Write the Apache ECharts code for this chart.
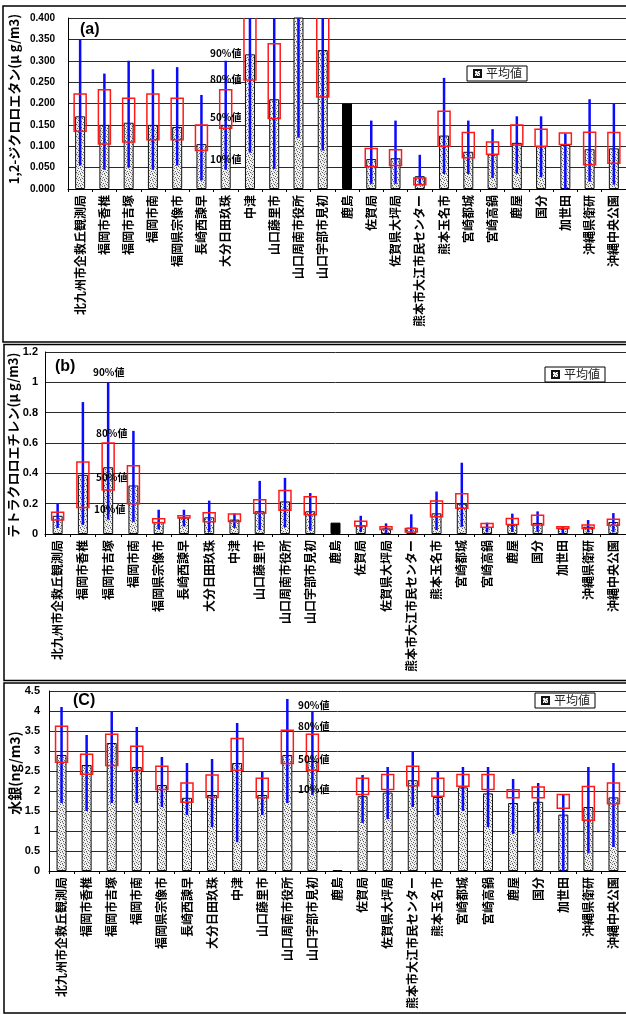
<!DOCTYPE html>
<html><head><meta charset="utf-8">
<style>html,body{margin:0;padding:0;background:#fff}#c{width:626px;height:1014px}</style>
<script src="https://cdn.jsdelivr.net/npm/echarts@6/dist/echarts.min.js"></script>
</head><body><div id="c"></div>
<script>
// ---- categories (monitoring stations) ----
const categories = ['北九州市企救丘観測局','福岡市香椎','福岡市吉塚','福岡市南','福岡県宗像市','長崎西諫早','大分日田玖珠','中津','山口藤里市','山口周南市役所','山口宇部市見初','鹿島','佐賀局','佐賀県大坪局','熊本市大江市民センター','熊本玉名市','宮崎都城','宮崎高鍋','鹿屋','国分','加世田','沖縄県衛研','沖縄中央公園'];
const blackIndex = 11; // station drawn as solid black bar

// ---- (a) 1,2-ジクロロエタン ----
const meanA = [0.170,0.150,0.155,0.150,0.145,0.105,0.150,0.315,0.210,0.450,0.325,0.200,0.070,0.072,0.030,0.125,0.087,0.081,0.108,0.100,0.103,0.093,0.095];
const p10A  = [0.055,0.045,0.050,0.045,0.055,0.020,0.045,0.085,0.047,0.120,0.090,null,0.012,0.012,0.012,0.035,0.035,0.026,0.036,0.028,0.000,0.017,0.010];
const p50A  = [0.135,0.105,0.110,0.115,0.115,0.090,0.142,0.255,0.165,0.450,0.215,null,0.052,0.055,0.010,0.100,0.073,0.081,0.103,0.100,0.104,0.057,0.060];
const p80A  = [0.222,0.232,0.212,0.222,0.212,0.150,0.232,0.480,0.340,0.700,0.480,null,0.095,0.092,0.026,0.182,0.132,0.110,0.150,0.140,0.131,0.133,0.132];
const p90A  = [0.350,0.270,0.300,0.280,0.285,0.220,0.300,0.500,0.500,0.800,0.600,null,0.160,0.160,0.080,0.260,0.160,0.140,0.170,0.170,0.130,0.210,0.200];

// ---- (b) テトラクロロエチレン ----
const meanB = [0.120,0.390,0.440,0.320,0.080,0.110,0.110,0.095,0.150,0.215,0.150,0.075,0.057,0.037,0.042,0.136,0.200,0.045,0.062,0.073,0.037,0.048,0.079];
const p10B  = [0.040,0.060,0.095,0.080,0.030,0.050,0.013,0.040,0.025,0.044,0.022,null,0.013,0.007,0.007,0.026,0.048,0.011,0.013,0.013,0.000,0.011,0.011];
const p50B  = [0.092,0.175,0.290,0.200,0.075,0.105,0.080,0.083,0.136,0.156,0.127,null,0.053,0.029,0.013,0.114,0.169,0.044,0.062,0.059,0.037,0.037,0.057];
const p80B  = [0.143,0.475,0.600,0.450,0.100,0.121,0.140,0.132,0.226,0.286,0.246,null,0.084,0.048,0.037,0.218,0.266,0.070,0.103,0.123,0.048,0.059,0.097];
const p90B  = [0.200,0.870,1.000,0.680,0.160,0.160,0.220,0.135,0.350,0.370,0.270,null,0.120,0.070,0.130,0.280,0.470,0.075,0.134,0.149,0.048,0.092,0.138];

// ---- (c) 水銀 ----
const meanC = [2.90,2.65,3.20,2.60,2.15,1.83,1.90,2.70,1.90,2.90,2.75,0.02,1.87,1.96,2.27,1.85,2.09,1.94,1.70,1.73,1.41,1.60,1.84];
const p10C  = [1.70,1.50,1.70,1.70,1.60,1.40,1.10,0.72,1.40,1.70,1.90,null,1.20,1.30,1.60,1.40,1.50,1.10,0.93,0.96,0.00,0.44,0.60];
const p50C  = [2.72,2.42,2.64,2.52,2.04,1.72,1.84,2.52,1.83,2.69,2.52,null,1.91,2.04,2.13,1.87,2.12,2.04,1.83,1.83,1.57,1.27,1.68];
const p80C  = [3.62,2.92,3.42,3.12,2.62,2.20,2.40,3.31,2.32,3.52,3.42,null,2.32,2.41,2.62,2.32,2.41,2.41,2.03,2.10,1.91,2.11,2.20];
const p90C  = [4.10,3.40,4.00,3.60,2.85,2.70,2.80,3.70,2.50,4.30,4.00,null,2.40,2.60,3.00,2.50,2.60,2.60,2.30,2.20,1.90,2.60,2.70];

// ---- axis settings / texts ----
const yTitles = ['1,2-ジクロロエタン(μ g/m3)','テトラクロロエチレン(μ g/m3)','水銀(ng/m3)'];
const panelLabels = ['(a)','(b)','(C)'];
const yMax = [0.4, 1.2, 4.5];
const yInterval = [0.05, 0.2, 0.5];
const pctLabels = ['90%値','80%値','50%値','10%値'];
const legendName = '平均値';

const FONT_JP = '"Noto Sans CJK JP", "Noto Sans", sans-serif';
const FONT_NUM = '"Liberation Sans", Arial, sans-serif';

function makePattern(){
  const c = document.createElement('canvas');
  c.width = 6; c.height = 6;
  const ctx = c.getContext('2d');
  ctx.fillStyle = '#f2f2f2'; ctx.fillRect(0,0,6,6);
  ctx.fillStyle = '#5a5a5a';
  [[0,0],[3,1],[1,3],[4,4],[5,2],[2,5]].forEach(p => ctx.fillRect(p[0], p[1], 1, 1));
  ctx.fillStyle = '#b0b0b0';
  [[2,0],[5,5],[0,4],[3,3]].forEach(p => ctx.fillRect(p[0], p[1], 1, 1));
  return c;
}
const pattern = {image: makePattern(), repeat: 'repeat'};

const panels = [
  {mean: meanA, p10: p10A, p50: p50A, p80: p80A, p90: p90A,
   grid: {left: 68, top: 18, right: 0, height: 171}, fmt: v => v.toFixed(3), margin: 13, fs: 10},
  {mean: meanB, p10: p10B, p50: p50B, p80: p80B, p90: p90B,
   grid: {left: 45, top: 352, right: 0, height: 182}, fmt: v => String(+v.toFixed(1)), margin: 7, fs: 11},
  {mean: meanC, p10: p10C, p50: p50C, p80: p80C, p90: p90C,
   grid: {left: 49, top: 691, right: 0, height: 180}, fmt: v => String(+v.toFixed(1)), margin: 9, fs: 11}
];

function renderWhisker(params, api){
  const cs = params.coordSys;
  const i = api.value(0);
  const x = api.coord([i, 0])[0];
  let y1 = api.coord([i, api.value(1)])[1];
  let y2 = api.coord([i, api.value(2)])[1];
  const top = cs.y, bot = cs.y + cs.height;
  y1 = Math.max(top, Math.min(bot, y1));
  y2 = Math.max(top, Math.min(bot, y2));
  if (y1 === y2) return null;
  return {type: 'line', shape: {x1: x, y1: y1, x2: x, y2: y2},
          style: {stroke: '#0a0aff', lineWidth: 2.5}};
}
function renderBox(params, api){
  const cs = params.coordSys;
  const i = api.value(0);
  const x = api.coord([i, 0])[0];
  const yLo = api.coord([i, api.value(1)])[1];
  const yHi = api.coord([i, api.value(2)])[1];
  const top = cs.y;
  const w = 12;
  const style = {fill: null, stroke: '#ff1a1a', lineWidth: 1.5};
  if (yLo <= top) return null;
  if (yHi < top) {
    return {type: 'polyline', shape: {points: [[x - w/2, top], [x - w/2, yLo], [x + w/2, yLo], [x + w/2, top]]}, style: style};
  }
  return {type: 'rect', shape: {x: x - w/2, y: yHi, width: w, height: yLo - yHi}, style: style};
}

const grids = [], xAxes = [], yAxes = [], series = [];
panels.forEach((p, k) => {
  grids.push(p.grid);
  xAxes.push({
    type: 'category', gridIndex: k, data: categories,
    axisLine: {lineStyle: {color: '#000', width: 1}},
    axisTick: {show: true, length: 3, lineStyle: {color: '#000'}},
    axisLabel: {rotate: 90, interval: 0, margin: 6, fontSize: 12, fontWeight: 'bold',
                fontFamily: FONT_JP, color: '#000'},
    splitLine: {show: false}
  });
  yAxes.push({
    type: 'value', gridIndex: k, min: 0, max: yMax[k], interval: yInterval[k],
    axisLine: {show: true, lineStyle: {color: '#000', width: 1}},
    axisTick: {show: false},
    axisLabel: {formatter: p.fmt, margin: p.margin, fontSize: p.fs, fontWeight: 'bold',
                fontFamily: FONT_NUM, color: '#000'},
    splitLine: {show: true, lineStyle: {color: '#2a2a2a', width: 1}}
  });
  series.push({
    name: legendName, type: 'bar', xAxisIndex: k, yAxisIndex: k, barWidth: 10,
    itemStyle: {color: pattern, borderColor: '#111', borderWidth: 1},
    data: p.mean.map((v, i) => i === blackIndex ? {value: v, itemStyle: {color: '#000', borderColor: '#000'}} : v),
    clip: true, z: 2, silent: true
  });
  series.push({
    type: 'custom', xAxisIndex: k, yAxisIndex: k, renderItem: renderWhisker,
    encode: {x: 0, y: [1, 2]}, z: 3, silent: true,
    data: categories.map((c, i) => [i, p.p10[i], p.p90[i]]).filter(d => d[1] != null)
  });
  series.push({
    type: 'custom', xAxisIndex: k, yAxisIndex: k, renderItem: renderBox,
    encode: {x: 0, y: [1, 2]}, z: 4, silent: true,
    data: categories.map((c, i) => [i, p.p50[i], p.p80[i]]).filter(d => d[1] != null)
  });
});

const legendPos = [{left: 467, top: 66}, {left: 545, top: 367}, {left: 535, top: 693}];
const legends = legendPos.map(pos => Object.assign({
  data: [legendName], icon: 'rect', itemWidth: 7, itemHeight: 7, itemGap: 0,
  borderColor: '#000', borderWidth: 1, backgroundColor: '#fff', padding: [1, 5, 1, 6],
  selectedMode: false,
  textStyle: {fontSize: 12, fontFamily: FONT_JP, color: '#222', lineHeight: 13}
}, pos));

// frames, titles and annotations
const graphics = [];
[[3, 6, 630, 336], [4, 344.5, 630, 336], [4, 683, 630, 330]].forEach(r => {
  graphics.push({type: 'rect', shape: {x: r[0], y: r[1], width: r[2], height: r[3]},
    style: {fill: null, stroke: '#000', lineWidth: 1.5}, z: 10, silent: true});
});
const yTitlePos = [[14, 99, 13], [13, 445, 13], [15, 773, 14]];
yTitles.forEach((t, k) => {
  graphics.push({type: 'text', x: yTitlePos[k][0], y: yTitlePos[k][1], rotation: Math.PI / 2,
    style: {text: t, fontSize: yTitlePos[k][2], fontWeight: 'bold', fontFamily: FONT_JP,
            fill: '#000', align: 'center', verticalAlign: 'middle'}, z: 10, silent: true});
});
const panelLabelPos = [[80, 30], [55, 367], [73, 701]];
panelLabels.forEach((t, k) => {
  graphics.push({type: 'text', x: panelLabelPos[k][0], y: panelLabelPos[k][1],
    style: {text: t, fontSize: 16, fontWeight: 'bold', fontFamily: FONT_NUM,
            fill: '#000', align: 'left', verticalAlign: 'middle'}, z: 10, silent: true});
});
const annotPos = [
  [[210, 53], [210, 79], [210, 117], [210, 159]],
  [[93, 372], [96, 433], [96, 477], [94, 509]],
  [[298, 705], [298, 726], [298, 759], [298, 789]]
];
annotPos.forEach(list => list.forEach((pt, j) => {
  graphics.push({type: 'text', x: pt[0], y: pt[1],
    style: {text: pctLabels[j], fontSize: 10, fontWeight: 'bold', fontFamily: FONT_JP,
            fill: '#000', align: 'left', verticalAlign: 'middle'}, z: 10, silent: true});
}));

const chart = echarts.init(document.getElementById('c'), null, {renderer: 'canvas'});
chart.setOption({
  animation: false,
  backgroundColor: '#fff',
  grid: grids, xAxis: xAxes, yAxis: yAxes, series: series,
  legend: legends,
  graphic: graphics
});
</script></body></html>
